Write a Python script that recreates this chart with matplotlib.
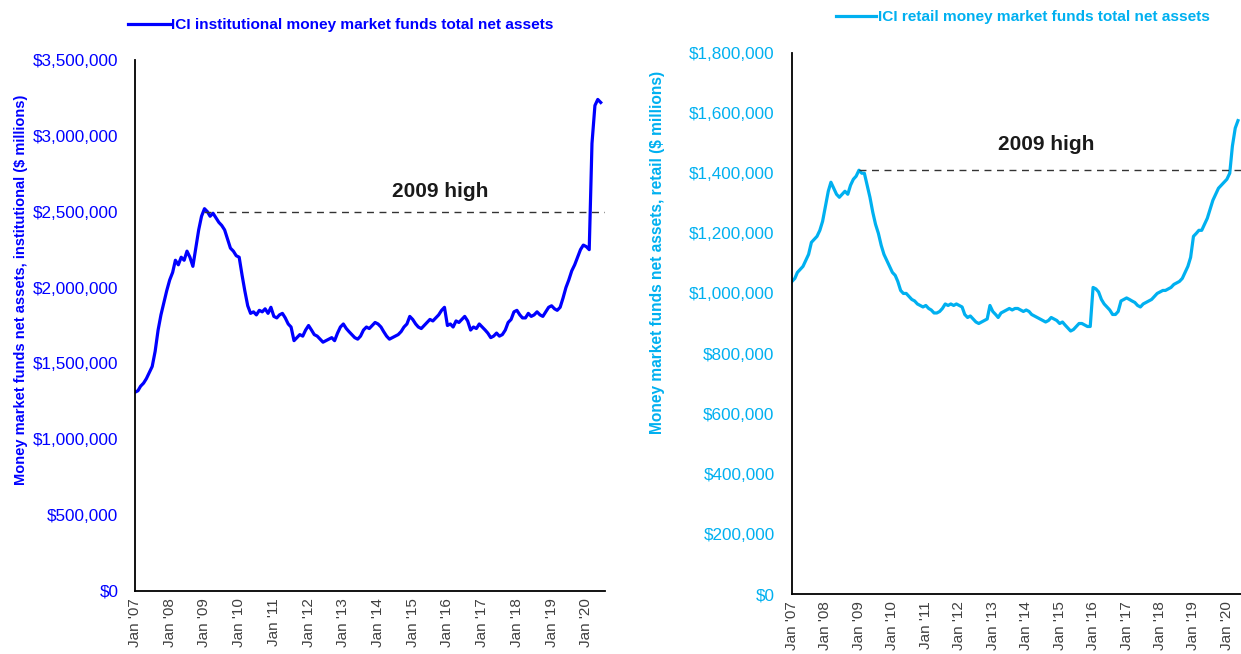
import matplotlib
matplotlib.use("Agg")
import matplotlib.pyplot as plt
from matplotlib import font_manager
from matplotlib.ticker import FuncFormatter
import pandas as pd
import numpy as np

# ---------------- data (monthly, $ millions) ----------------
inst_start = "2007-01-01"
institutional = [
    # 2007
    1310000, 1320000, 1350000, 1370000, 1400000, 1440000, 1480000, 1580000, 1720000, 1820000, 1900000, 1980000,
    # 2008
    2050000, 2100000, 2180000, 2150000, 2200000, 2180000, 2240000, 2200000, 2140000, 2260000, 2380000, 2470000,
    # 2009
    2520000, 2500000, 2470000, 2490000, 2460000, 2430000, 2410000, 2380000, 2320000, 2260000, 2240000, 2210000,
    # 2010
    2200000, 2080000, 1980000, 1880000, 1830000, 1840000, 1820000, 1850000, 1840000, 1860000, 1830000, 1870000,
    # 2011
    1810000, 1800000, 1820000, 1830000, 1800000, 1760000, 1740000, 1650000, 1670000, 1690000, 1680000, 1720000,
    # 2012
    1750000, 1720000, 1690000, 1680000, 1660000, 1640000, 1650000, 1660000, 1670000, 1650000, 1700000, 1740000,
    # 2013
    1760000, 1730000, 1710000, 1690000, 1670000, 1660000, 1680000, 1720000, 1740000, 1730000, 1750000, 1770000,
    # 2014
    1760000, 1740000, 1710000, 1680000, 1660000, 1670000, 1680000, 1690000, 1710000, 1740000, 1760000, 1810000,
    # 2015
    1790000, 1760000, 1740000, 1730000, 1750000, 1770000, 1790000, 1780000, 1800000, 1820000, 1850000, 1870000,
    # 2016
    1750000, 1760000, 1740000, 1780000, 1770000, 1790000, 1810000, 1780000, 1720000, 1740000, 1730000, 1760000,
    # 2017
    1740000, 1720000, 1700000, 1670000, 1680000, 1700000, 1680000, 1690000, 1720000, 1770000, 1790000, 1840000,
    # 2018
    1850000, 1820000, 1800000, 1800000, 1830000, 1810000, 1820000, 1840000, 1820000, 1810000, 1840000, 1870000,
    # 2019
    1880000, 1860000, 1850000, 1870000, 1930000, 2000000, 2050000, 2110000, 2150000, 2200000, 2250000, 2280000,
    # 2020
    2270000, 2250000, 2950000, 3200000, 3240000, 3220000,
]

retail_start = "2007-01-01"
retail = [
    # 2007
    1040000, 1050000, 1070000, 1080000, 1090000, 1110000, 1130000, 1170000, 1180000, 1190000, 1210000, 1240000,
    # 2008
    1290000, 1340000, 1370000, 1350000, 1330000, 1320000, 1330000, 1340000, 1330000, 1360000, 1380000, 1390000,
    # 2009
    1410000, 1400000, 1400000, 1360000, 1320000, 1270000, 1230000, 1200000, 1160000, 1130000, 1110000, 1090000,
    # 2010
    1070000, 1060000, 1040000, 1010000, 1000000, 1000000, 990000, 980000, 975000, 965000, 960000, 955000,
    # 2011
    960000, 950000, 945000, 935000, 935000, 940000, 950000, 965000, 960000, 965000, 960000, 965000,
    # 2012
    960000, 955000, 930000, 920000, 925000, 915000, 905000, 900000, 905000, 910000, 915000, 960000,
    # 2013
    940000, 930000, 920000, 935000, 940000, 945000, 950000, 945000, 950000, 950000, 945000, 940000,
    # 2014
    945000, 940000, 930000, 925000, 920000, 915000, 910000, 905000, 910000, 920000, 915000, 910000,
    # 2015
    900000, 905000, 895000, 885000, 875000, 880000, 890000, 900000, 900000, 895000, 890000, 890000,
    # 2016
    1020000, 1015000, 1005000, 980000, 965000, 955000, 945000, 930000, 930000, 940000, 975000, 980000,
    # 2017
    985000, 980000, 975000, 970000, 960000, 955000, 965000, 970000, 975000, 980000, 990000, 1000000,
    # 2018
    1005000, 1010000, 1010000, 1015000, 1020000, 1030000, 1035000, 1040000, 1050000, 1070000, 1090000, 1120000,
    # 2019
    1190000, 1200000, 1210000, 1210000, 1230000, 1250000, 1280000, 1310000, 1330000, 1350000, 1360000, 1370000,
    # 2020
    1380000, 1400000, 1490000, 1550000, 1575000,
]

inst_high = 2500000
retail_high = 1410000
high_date = "2009-01-01"

inst_label = "ICI institutional money market funds total net assets"
retail_label = "ICI retail money market funds total net assets"
inst_ylabel = "Money market funds net assets, institutional ($ millions)"
retail_ylabel = "Money market funds net assets, retail ($ millions)"
tick_years = list(range(2007, 2021))

# ---------------- styling ----------------
names = {f.name for f in font_manager.fontManager.ttflist}
NARROW = "Liberation Sans Narrow" if "Liberation Sans Narrow" in names else "Liberation Sans"
REG = "Liberation Sans" if "Liberation Sans" in names else "DejaVu Sans"

BLUE = "#0000FF"
LBLUE = "#00B0F0"
GRAY = "#404040"

inst_dates = pd.date_range(inst_start, periods=len(institutional), freq="MS")
retail_dates = pd.date_range(retail_start, periods=len(retail), freq="MS")
ticks = [pd.Timestamp(f"{y}-01-01") for y in tick_years]
tick_labels = [f"Jan '{str(y)[2:]}" for y in tick_years]

fig = plt.figure(figsize=(12.41, 6.54), dpi=100)
W, H = 1241, 654


def make_axes(px_left, px_right, px_top, px_bottom):
    return fig.add_axes([px_left / W, 1 - px_bottom / H, (px_right - px_left) / W, (px_bottom - px_top) / H])


ax1 = make_axes(135, 605, 60, 591)
ax2 = make_axes(792, 1241, 53, 594)

money = FuncFormatter(lambda v, p: f"${v:,.0f}")


def style(ax, color, ymax, ystep, xend, ylabel, ylabel_xy, ypad, ylsize):
    ax.set_ylim(0, ymax)
    ax.set_yticks(np.arange(0, ymax + 1, ystep))
    ax.yaxis.set_major_formatter(money)
    ax.set_xlim(pd.Timestamp("2007-01-01"), pd.Timestamp(xend))
    ax.set_xticks(ticks)
    ax.set_xticklabels(tick_labels, rotation=90, fontsize=11, color=GRAY, family=REG)
    for lab in ax.get_yticklabels():
        lab.set_color(color)
        lab.set_fontsize(12.3)
        lab.set_family(NARROW)
    ax.tick_params(axis="both", length=0)
    ax.tick_params(axis="y", pad=ypad)
    ax.tick_params(axis="x", pad=5)
    for s in ["top", "right"]:
        ax.spines[s].set_visible(False)
    for s in ["left", "bottom"]:
        ax.spines[s].set_color("black")
        ax.spines[s].set_linewidth(1.3)
    ax.set_ylabel(ylabel, color=color, fontsize=ylsize, fontweight="bold", family=NARROW)
    ax.yaxis.set_label_coords(*ylabel_xy)


ax1.plot(inst_dates, institutional, color=BLUE, lw=2.3, label=inst_label)
style(ax1, BLUE, 3500000, 500000, "2020-07-16", inst_ylabel, (-0.228, 0.567), 12, 10.5)
ax1.hlines(inst_high, pd.Timestamp(high_date), pd.Timestamp("2020-07-16"),
           colors="#333333", linestyles=(0, (5, 4)), lw=1.0)
ax1.text(0.649, 0.752, "2009 high", transform=ax1.transAxes, ha="center", va="center",
         fontsize=15, fontweight="bold", family=REG, color="#1a1a1a")

ax2.plot(retail_dates, retail, color=LBLUE, lw=2.3, label=retail_label)
style(ax2, LBLUE, 1800000, 200000, "2020-06-03", retail_ylabel, (-0.283, 0.632), 12.5, 11.2)
ax2.hlines(retail_high, pd.Timestamp(high_date), pd.Timestamp("2020-06-03"),
           colors="#333333", linestyles=(0, (5, 4)), lw=1.0)
ax2.text(0.567, 0.831, "2009 high", transform=ax2.transAxes, ha="center", va="center",
         fontsize=15, fontweight="bold", family=REG, color="#1a1a1a")

# legends
leg_prop = {"family": NARROW, "weight": "bold", "size": 11.1}
ax1.legend(loc="center left", bbox_to_anchor=(128 / W, 1 - 25 / H), bbox_transform=fig.transFigure,
           frameon=False, handlelength=2.7, handletextpad=0.1, borderaxespad=0, borderpad=0,
           prop=leg_prop, labelcolor=BLUE)
ax2.legend(loc="center left", bbox_to_anchor=(836 / W, 1 - 17 / H), bbox_transform=fig.transFigure,
           frameon=False, handlelength=2.6, handletextpad=0.1, borderaxespad=0, borderpad=0,
           prop=leg_prop, labelcolor=LBLUE)

fig.savefig("out.png", dpi=100, facecolor="white")
